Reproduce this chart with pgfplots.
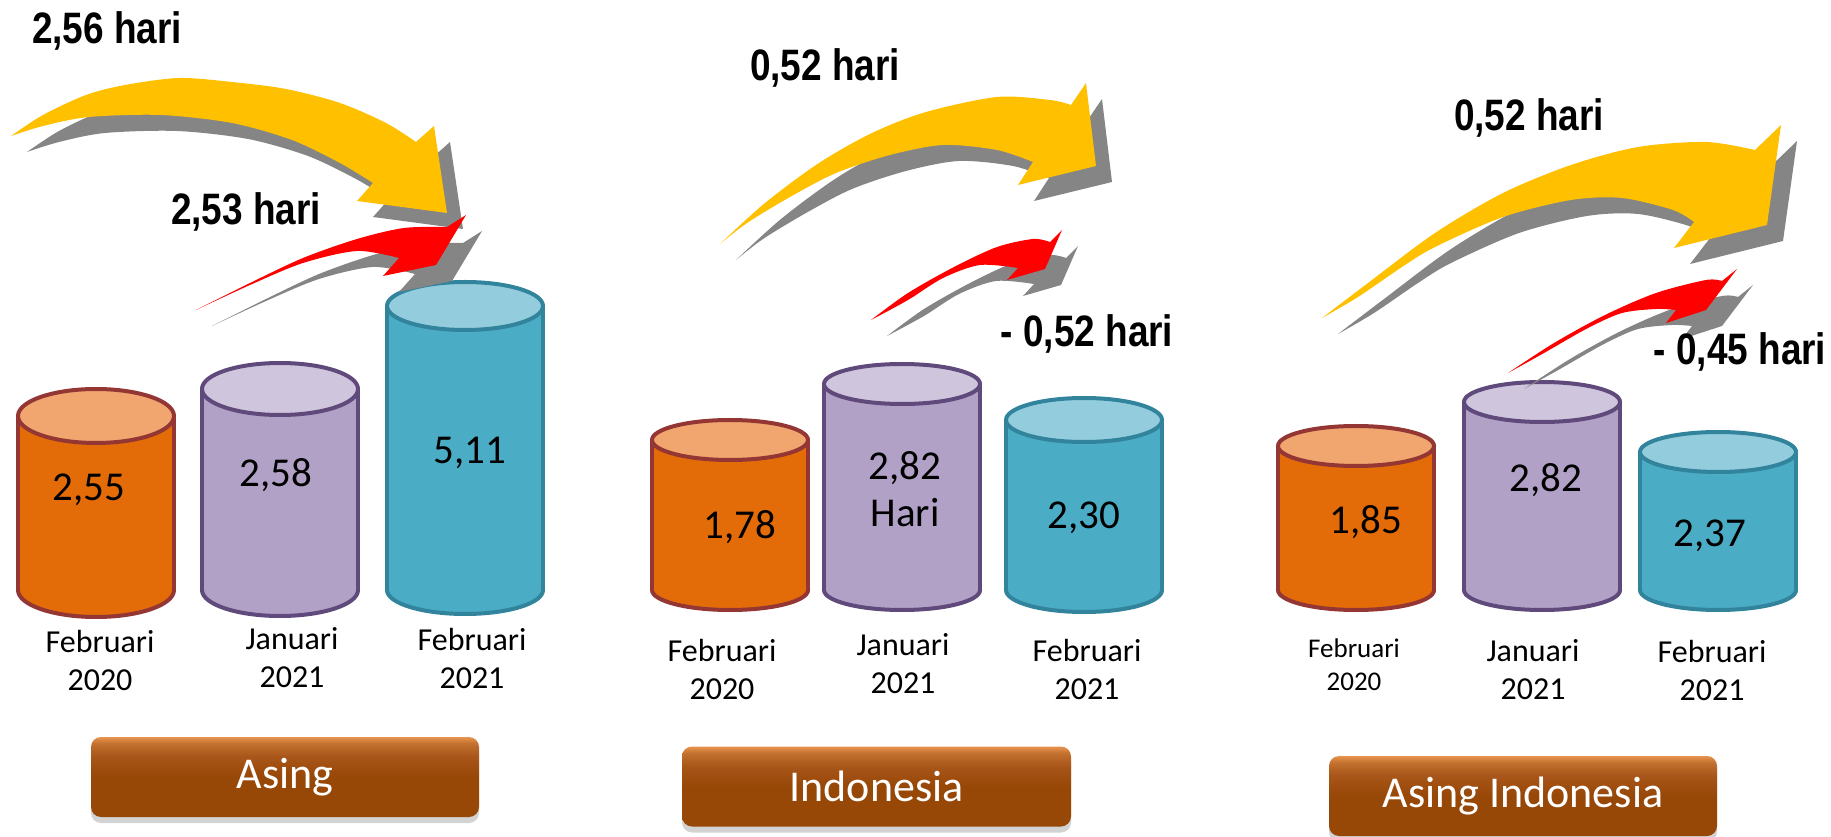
\documentclass[border=0pt]{standalone}
\usepackage{pgfplots}
\pgfplotsset{compat=1.18}
\usepackage{pgfplotstable}
\usepackage{graphicx}
\usepackage{fontspec}
\setmainfont{Carlito}
\newfontfamily\arialf{Liberation Sans}
\usetikzlibrary{shadows}

\definecolor{orBody}{HTML}{E36C09}
\definecolor{orTop}{HTML}{F0A66E}
\definecolor{orEdge}{HTML}{943634}
\definecolor{puBody}{HTML}{B2A1C7}
\definecolor{puTop}{HTML}{CFC6DE}
\definecolor{puEdge}{HTML}{604A7B}
\definecolor{teBody}{HTML}{4BACC6}
\definecolor{teTop}{HTML}{93CDDD}
\definecolor{teEdge}{HTML}{31849B}
\definecolor{arrYel}{HTML}{FFC000}
\definecolor{arrRed}{HTML}{FF0000}
\definecolor{arrSh}{HTML}{858585}
\definecolor{btnTop}{HTML}{E89450}
\definecolor{btnHi}{HTML}{C4722F}
\definecolor{btnMid}{HTML}{A8561A}
\definecolor{btnBot}{HTML}{974706}

\pgfdeclareverticalshading{btnsh}{100bp}{color(0bp)=(btnBot); color(25bp)=(btnBot); color(50bp)=(btnBot); color(63bp)=(btnMid); color(71bp)=(btnHi); color(75bp)=(btnTop); color(100bp)=(btnTop)}

% x = cylinder centre, h = drawn height, ry = ellipse half height, val = value
\pgfplotstableread{
x h ry val
96 174 27 2,55
730 150 20 1,78
1356 144 20 1,85
}\orT
\pgfplotstableread{
x h ry val
280 201 26 2,58
902 206 20 2,82
1542 188 20 2,82
}\puT
\pgfplotstableread{
x h ry val
465 284 24 5,11
1084 170 22 2,30
1718 138 20 2,37
}\teT

\pgfdeclareplotmark{cylell}{%
  \pgfpathellipse{\pgfpointorigin}{\pgfqpoint{39pt}{0pt}}{\pgfpoint{0pt}{0.5pt*\ry}}%
  \pgfusepathqfillstroke}

\newcommand\cyl[4]{%
  \addplot[only marks, mark=cylell, mark options={fill=#2, draw=#4, line width=2pt},
    visualization depends on={\thisrow{ry}\as\ry}] table[x=x, y expr=0] {#1};
  \addplot[ybar, bar width=156, bar shift=0pt, fill=#2, draw=none] table[x=x, y=h] {#1};
  \addplot[ycomb, draw=#4, line width=2pt, mark=none] table[x expr=\thisrow{x}-78, y=h] {#1};
  \addplot[ycomb, draw=#4, line width=2pt, mark=none] table[x expr=\thisrow{x}+78, y=h] {#1};
  \addplot[only marks, mark=cylell, mark options={fill=#3, draw=#4, line width=2pt},
    visualization depends on={\thisrow{ry}\as\ry}] table[x=x, y=h] {#1};
}

\newcommand\shadarrow[2]{%
  \fill[arrSh, xshift=8pt, yshift=-8pt] #2;
  \fill[#1] #2;
}

\tikzset{
  btn/.style={rounded corners=5pt, shading=btnsh,
    draw=none, text=white, font=\fontsize{22}{26}\selectfont, inner sep=0pt,
    drop shadow={shadow xshift=0pt, shadow yshift=-3pt, opacity=0.35}},
  cat/.style={align=center, text=black, font=\fontsize{16}{19}\selectfont},
  val/.style={text=black, font=\fontsize{20.5}{24}\selectfont},
  hl/.style={text=black, font=\arialf\bfseries\fontsize{22}{26}\selectfont}
}

\begin{document}
\begin{tikzpicture}
\begin{axis}[
  x=0.5pt, y=0.5pt,
  xmin=0, xmax=1831, ymin=-246, ymax=590,
  hide axis, clip=false, clip marker paths=true
]
\cyl{\orT}{orBody}{orTop}{orEdge}
\cyl{\puT}{puBody}{puTop}{puEdge}
\cyl{\teT}{teBody}{teTop}{teEdge}

% values inside cylinders
\node[val] at (axis cs:89,100) {2,55};
\node[val] at (axis cs:276,115) {2,58};
\node[val] at (axis cs:470,137) {5,11};
\node[val] at (axis cs:740,63) {1,78};
\node[val] at (axis cs:905,122) {2,82};
\node[val] at (axis cs:905,77) {Hari};
\node[val] at (axis cs:1084,72) {2,30};
\node[val] at (axis cs:1366,68) {1,85};
\node[val] at (axis cs:1546,110) {2,82};
\node[val] at (axis cs:1710,54) {2,37};

% category labels
\node[cat] at (axis cs:100,-70) {Februari\\2020};
\node[cat] at (axis cs:292,-68) {Januari\\2021};
\node[cat] at (axis cs:472,-68) {Februari\\2021};
\node[cat] at (axis cs:722,-79) {Februari\\2020};
\node[cat] at (axis cs:903,-74) {Januari\\2021};
\node[cat] at (axis cs:1087,-79) {Februari\\2021};
\node[cat, font=\fontsize{13.5}{16.5}\selectfont] at (axis cs:1354,-75) {Februari\\2020};
\node[cat] at (axis cs:1533,-80) {Januari\\2021};
\node[cat] at (axis cs:1712,-80) {Februari\\2021};

% arrows
\shadarrow{arrYel}{(11,454) -- plot[smooth] coordinates {(11,454) (43,475) (86,495) (125,505) (179,512) (232,508) (286,501) (340,487) (386,467) (416,448)} -- (434,464) -- (447,377) -- (357,389) -- (373,407) -- plot[smooth] coordinates {(373,407) (340,427) (292,450) (232,467) (161,475) (89,473) (43,464) (11,454)} -- cycle}
\shadarrow{arrRed}{(196,280) -- plot[smooth] coordinates {(196,280) (250,307) (303,332) (357,351) (404,362) (447,363)} -- (466,375) -- (436,325) -- (383,314) -- (399,332) -- plot[smooth] coordinates {(399,332) (357,339) (303,327) (250,305) (196,280)} -- cycle}
\shadarrow{arrYel}{(720,346) -- plot[smooth] coordinates {(720,346) (765,387) (819,427) (872,457) (926,478) (997,493) (1050,490) (1071,485)} -- (1086,507) -- (1096,424) -- (1018,405) -- (1033,428) -- plot[smooth] coordinates {(1033,428) (997,440) (943,445) (890,435) (836,417) (790,393) (747,367) (720,346)} -- cycle}
\shadarrow{arrRed}{(871,270) -- plot[smooth] coordinates {(871,270) (908,297) (954,323) (997,343) (1033,351) (1050,348)} -- (1062,360) -- (1045,321) -- (1007,310) -- (1018,322) -- plot[smooth] coordinates {(1018,322) (980,325) (943,312) (908,290) (871,270)} -- cycle}
\shadarrow{arrYel}{(1322,272) -- plot[smooth] coordinates {(1322,272) (1368,307) (1435,357) (1503,397) (1571,425) (1638,443) (1706,448) (1755,440)} -- (1781,465) -- (1767,365) -- (1674,342) -- (1694,368) -- plot[smooth] coordinates {(1694,368) (1673,380) (1622,392) (1571,390) (1503,373) (1435,343) (1402,323) (1358,293) (1322,272)} -- cycle}
\shadarrow{arrRed}{(1508,217) -- plot[smooth] coordinates {(1508,217) (1554,247) (1605,275) (1656,297) (1706,310) (1722,309)} -- (1737,321) -- (1706,280) -- (1666,267) -- (1676,280) -- plot[smooth] coordinates {(1676,280) (1656,281) (1622,277) (1588,262) (1544,237) (1508,217)} -- cycle}

% arrow labels
\node[hl] at (axis cs:107,559) {\scalebox{0.84}[1]{2,56 hari}};
\node[hl] at (axis cs:246,378) {\scalebox{0.84}[1]{2,53 hari}};
\node[hl] at (axis cs:825,522) {\scalebox{0.84}[1]{0,52 hari}};
\node[hl] at (axis cs:1087,256) {\scalebox{0.84}[1]{- 0,52 hari}};
\node[hl] at (axis cs:1529,472) {\scalebox{0.84}[1]{0,52 hari}};
\node[hl] at (axis cs:1740,238) {\scalebox{0.84}[1]{- 0,45 hari}};

% buttons
\node[btn, minimum width=194pt, minimum height=40pt] at (axis cs:285,-187) {Asing};
\node[btn, minimum width=194.5pt, minimum height=40pt] at (axis cs:876.5,-196.5) {Indonesia};
\node[btn, minimum width=194pt, minimum height=40pt] at (axis cs:1523,-206) {Asing Indonesia};
\end{axis}
\pgfresetboundingbox
\path (current axis.south west) rectangle (current axis.north east);
\end{tikzpicture}
\end{document}
